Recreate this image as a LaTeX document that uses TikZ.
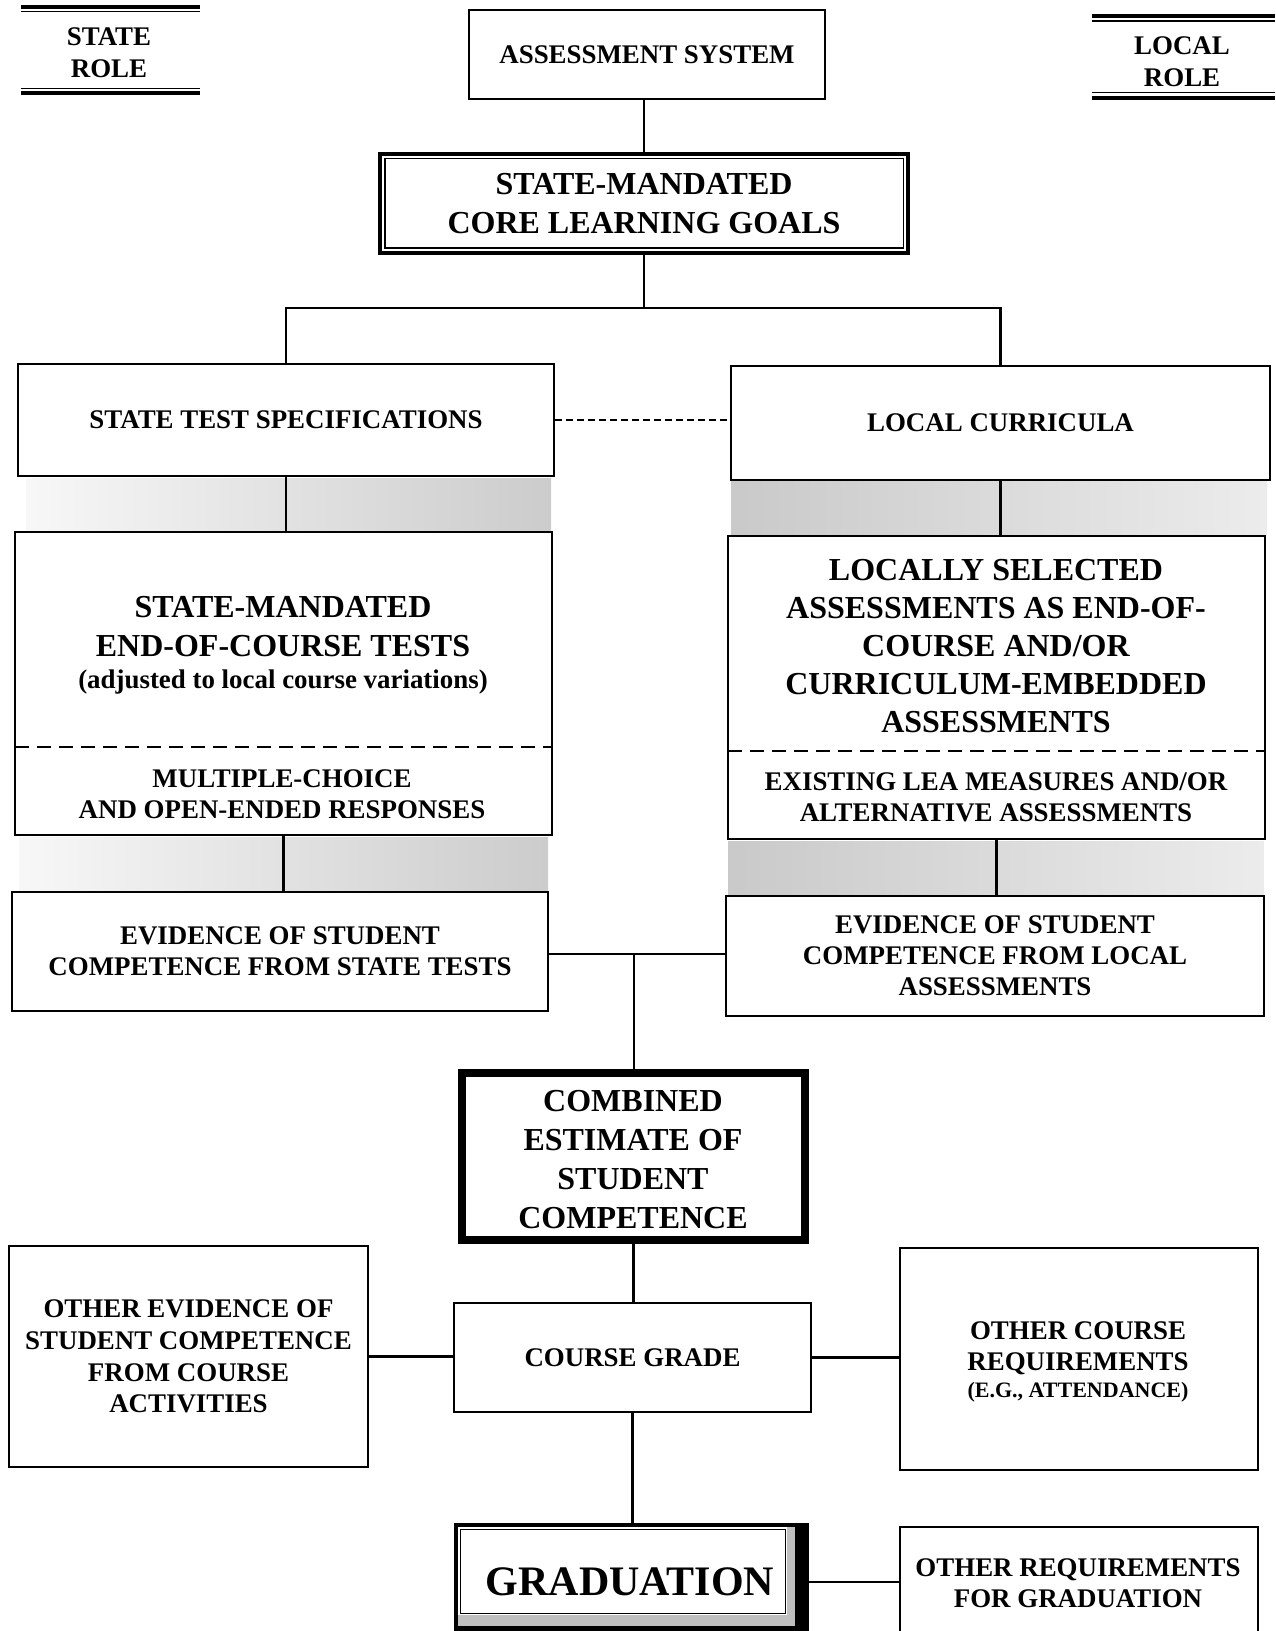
\documentclass[tikz,border=0pt]{standalone}
\usepackage{fontspec}
\setmainfont{Liberation Serif}
\begin{document}
\begin{tikzpicture}[x=0.5pt,y=-0.5pt,
  box/.style={draw, line width=1.3pt, inner sep=0pt, align=center, fill=white},
  conn/.style={line width=1.1pt},
  txt/.style={align=center, inner sep=0pt},
  fA/.style={font=\fontsize{13.45}{15.6}\selectfont\bfseries},
  fB/.style={font=\fontsize{16}{19.5}\selectfont\bfseries},
  fC/.style={font=\fontsize{11}{13}\selectfont\bfseries},
  fG/.style={font=\fontsize{21}{25}\selectfont\bfseries},
  divider/.style={line width=1.3pt, dash pattern=on 7pt off 4pt},
  thickrule/.style={line width=2pt},
  thinrule/.style={line width=0.8pt}]
\useasboundingbox (0,0) rectangle (1275,1631);

% role headers
\draw[thickrule] (21,7) -- (200,7);
\draw[thinrule] (21,11.5) -- (200,11.5);
\draw[thinrule] (21,88.5) -- (200,88.5);
\draw[thickrule] (21,93) -- (200,93);
\node[txt, font=\fontsize{13.45}{16}\selectfont\bfseries] (staterole) at (109,52.5) {STATE\\ROLE};
\draw[thickrule] (1092,16) -- (1275,16);
\draw[thinrule] (1092,21) -- (1275,21);
\draw[thinrule] (1092,92.5) -- (1275,92.5);
\draw[thickrule] (1092,98) -- (1275,98);
\node[txt, font=\fontsize{13.45}{16}\selectfont\bfseries] (localrole) at (1182,61.5) {LOCAL\\ROLE};

% shaded bands
\shade[left color=gray!6, right color=gray!40] (26,478) rectangle (551,531);
\shade[left color=gray!42, right color=gray!15] (731,481) rectangle (1267,535);
\shade[left color=gray!6, right color=gray!40] (19,837) rectangle (548,891);
\shade[left color=gray!42, right color=gray!15] (728,841) rectangle (1264,896);

% boxes
\node[box, fA, minimum width=178pt, minimum height=44.5pt] (asm) at (647,54.5) {ASSESSMENT SYSTEM};
\node[box, fB, line width=2.2pt, minimum width=264pt, minimum height=49.5pt] (core) at (644,203.5) {STATE-MANDATED\\CORE LEARNING GOALS};
\draw[line width=0.7pt] ([shift={(3.5pt,-3.5pt)}]core.north west) rectangle ([shift={(-3.5pt,3.5pt)}]core.south east);

\node[box, fA, minimum width=268pt, minimum height=56pt] (tsp) at (286,420) {STATE TEST SPECIFICATIONS};
\node[box, fA, minimum width=269.5pt, minimum height=57pt] (lc) at (1000.5,423) {LOCAL CURRICULA};

\node[box, minimum width=268.5pt, minimum height=151.5pt] (eoc) at (283.5,683.5) {};
\draw[divider] (15,747) -- (552,747);
\node[txt, fB] (eoct) at (283,626.5) {STATE-MANDATED\\END-OF-COURSE TESTS};
\node[txt, fA] (eocn) at (283,682) {(adjusted to local course variations)};
\node[txt, fA] (eocs) at (282,794) {MULTIPLE-CHOICE\\AND OPEN-ENDED RESPONSES};

\node[box, minimum width=268.5pt, minimum height=151.5pt] (lsa) at (996.5,687.5) {};
\draw[divider] (728,751) -- (1265,751);
\node[txt, font=\fontsize{16}{19}\selectfont\bfseries] (lsat) at (996,646) {LOCALLY SELECTED\\ASSESSMENTS AS END-OF-\\COURSE AND/OR\\CURRICULUM-EMBEDDED\\ASSESSMENTS};
\node[txt, fA] (lsas) at (996,797) {EXISTING LEA MEASURES AND/OR\\ALTERNATIVE ASSESSMENTS};

\node[box, fA, minimum width=268pt, minimum height=59.5pt] (evs) at (280,951.5) {EVIDENCE OF STUDENT\\COMPETENCE FROM STATE TESTS};
\node[box, fA, minimum width=269pt, minimum height=60pt] (evl) at (995,956) {EVIDENCE OF STUDENT\\COMPETENCE FROM LOCAL\\ASSESSMENTS};

\node[box, line width=4pt, minimum width=171.5pt, minimum height=83.5pt] (comb) at (633.5,1156.5) {};
\node[txt, fB] (combt) at (633,1160) {COMBINED\\ESTIMATE OF\\STUDENT\\COMPETENCE};

\node[box, fA, minimum width=178.5pt, minimum height=54.5pt] (cg) at (632.5,1357.5) {COURSE GRADE};
\node[box, font=\fontsize{13.45}{15.8}\selectfont\bfseries, minimum width=179.5pt, minimum height=110.5pt] (oe) at (188.5,1356.5) {OTHER EVIDENCE OF\\STUDENT COMPETENCE\\FROM COURSE\\ACTIVITIES};
\node[box, minimum width=179pt, minimum height=111pt] (ocr) at (1079,1359) {};
\node[txt, fA] (ocrt) at (1078,1348) {OTHER COURSE\\REQUIREMENTS};
\node[txt, fC] (ocrn) at (1078,1392) {(E.G., ATTENDANCE)};

% graduation
\node[fill=black, inner sep=0pt, minimum width=177.5pt, minimum height=61pt] (gframe) at (631.5,1584) {};
\fill[gray!50] (458,1527) rectangle (795,1626);
\fill[white] (458,1527) rectangle (787,1615);
\node[draw, line width=0.6pt, inner sep=0pt, minimum width=162.5pt, minimum height=42pt] (grad) at (623,1571.5) {};
\node[txt, fG] (gradt) at (630,1582) {GRADUATION};
\node[box, minimum width=179pt, minimum height=66.5pt] (ogr) at (1079,1593.5) {};
\node[txt, fA] (ogrt) at (1078,1583) {OTHER REQUIREMENTS\\FOR GRADUATION};

% connectors
\coordinate (split) at (644,308);
\coordinate (join) at (634,954);
\draw[conn] (core.north |- asm.south) -- (core.north);
\draw[conn] (core.south) -- (split);
\draw[conn] (tsp.north) |- (split) -| (lc.north);
\draw[conn, dash pattern=on 3.5pt off 2pt] (tsp.east) -- (tsp.east -| lc.west);
\draw[conn] (tsp.south) -- (tsp.south |- eoc.north);
\draw[conn] (lc.south) -- (lc.south |- lsa.north);
\draw[conn] (eoc.south) -- (eoc.south |- evs.north);
\draw[conn] (lsa.south) -- (lsa.south |- evl.north);
\draw[conn] (evs.east |- join) -- (evl.west |- join);
\draw[conn] (join) -- (join |- comb.north);
\draw[conn] (comb.south) -- (comb.south |- cg.north);
\draw[conn] (oe.east) -- (oe.east -| cg.west);
\draw[conn] (cg.east) -- (cg.east -| ocr.west);
\draw[conn] (cg.south) -- (cg.south |- gframe.north);
\draw[conn] (gframe.east |- gradt) -- (gradt -| ogr.west);
\end{tikzpicture}
\end{document}
